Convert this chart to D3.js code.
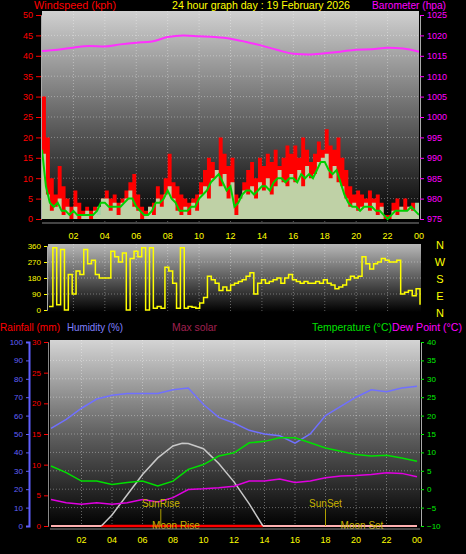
<!DOCTYPE html>
<html><head><meta charset="utf-8">
<script src="https://cdn.jsdelivr.net/npm/d3@7"></script>
<style>body{margin:0;background:#000}svg{display:block}text{font-family:"Liberation Sans",Arial,sans-serif}</style>
</head><body>
<svg id="c" width="466" height="554"></svg>
<script>
const hourTicks=["02","04","06","08","10","12","14","16","18","20","22","00"];
const gust=[30,20,10,6,13,8,5,3,7,4,2,3,2,3,1,5,7,5,6,4,5,7,9,11,6,3,2,3,4,8,6,10,16,9,8,6,5,4,5,6,9,12,15,14,12,20,16,13,15,6,5,9,12,14,10,15,13,16,14,17,13,15,18,16,18,15,20,17,14,16,19,17,22,18,17,20,15,12,8,6,7,6,5,7,5,6,4,1,1,4,5,3,5,3,4,2,3];
const avgWind=[17,8,4,3,4,2,2,1,2,1,1,1,1,1,2,4,4,3,3,3,3,4,5,5,3,2,1,1,2,4,4,5,7,5,4,2,2,2,3,3,5,6,7,9,10,11,9,7,8,3,4,6,7,7,6,7,8,8,7,9,10,10,9,10,10,9,11,10,11,10,12,14,14,12,11,12,9,6,4,3,3,2,3,3,3,2,2,1,0,1,2,2,2,2,3,2,1];
const speed=[16,6,2,3,5,1,3,0,3,0,1,2,0,2,3,5,5,2,4,1,4,5,7,3,2,0,1,3,1,5,3,6,8,5,2,1,3,1,4,2,6,8,5,10,12,8,11,5,9,1,5,7,6,8,5,9,7,10,6,8,12,9,8,11,9,12,8,13,10,11,14,15,16,10,13,9,8,5,3,4,2,3,4,2,4,1,3,0,0,2,1,3,2,3,2,4,0];
const baro=[1016.2,1016.5,1017,1017.4,1017.3,1017.8,1018.2,1018.5,1019.6,1020,1019.8,1019.6,1019.2,1018.4,1017.5,1016.4,1015.5,1015.3,1015.6,1016,1016.5,1016.6,1017,1016.8,1016];
const windDir=[20,350,30,340,0,200,90,220,200,340,260,280,200,180,180,180,330,300,270,320,0,290,330,300,350,0,350,10,20,10,240,220,150,10,350,10,20,15,10,40,70,190,170,150,110,130,110,140,150,160,170,190,210,90,150,170,150,160,170,180,150,180,200,170,160,150,160,150,150,160,150,170,150,140,120,130,140,170,190,180,190,300,260,230,260,270,290,280,270,270,280,90,100,110,80,120,30];
const humidity=[53,58,64,69,71,72,72,72,74,75,66,59,56,52,50,49,45,50,60,65,70,74,73,75,76];
const temperature=[6.3,4.5,2.2,2.2,1.3,1.8,2.2,0.9,2.2,5.4,6.7,9,9.9,12.6,13,14,14,12.6,11.2,10.3,9.4,9,9.2,8.5,7.6];
const dewPoint=[-2.8,-3.7,-4.1,-3.7,-4.1,-3.7,-2.8,-3.5,-2.3,-0.1,0.1,0.4,0.8,2.2,2.2,2.8,1.8,2.2,3.1,3.6,3.7,4,4.5,4.3,3.4];
const solarHours=[3.3,4,5,6,7,8,8.6,9,10,11,12,13,13.9];
const maxSolar=[0,60,170,280,370,435,450,448,420,340,240,120,0];
const rainfall=new Array(25).fill(0);
const dirLabels=["N","W","S","E","N"];

const svg=d3.select("#c");
const defs=svg.append("defs");
function grad(id,stops){const g=defs.append("linearGradient").attr("id",id).attr("x1",0).attr("y1",0).attr("x2",0).attr("y2",1);stops.forEach(s=>g.append("stop").attr("offset",s[0]).attr("stop-color",s[1]));}
grad("g1",[[0,"#d0d0d0"],[0.45,"#707070"],[1,"#000"]]);
grad("g2",[[0,"#b8b8b8"],[1,"#000"]]);
grad("g3",[[0,"#d4d4d4"],[0.5,"#606060"],[1,"#000"]]);
const t15=d3.range(97).map(i=>i/4), th=d3.range(25);
const label=(x,y,col,fs,w,t)=>svg.append("text").attr("x",x).attr("y",y).attr("fill",col).attr("font-size",fs).attr("textLength",w).attr("lengthAdjust","spacingAndGlyphs").text(t);

// ---------- top panel
const x1=d3.scaleLinear([0,24],[42,419]);
const yW=d3.scaleLinear([0,50],[219,15]);
const yB=d3.scaleLinear([975,1025],[219,15]);
svg.append("rect").attr("x",42).attr("y",11).attr("width",377).attr("height",211).attr("fill","url(#g1)");
const grid=(g,xs,ys,x0,x1_,y0,y1_)=>{xs.forEach(v=>g.append("line").attr("x1",v).attr("x2",v).attr("y1",y0).attr("y2",y1_));ys.forEach(v=>g.append("line").attr("y1",v).attr("y2",v).attr("x1",x0).attr("x2",x1_));g.attr("stroke","#fff").attr("stroke-opacity",0.35).attr("stroke-dasharray","1,2");};
grid(svg.append("g"),d3.range(2,24,2).map(x1),d3.range(5,50,5).map(yW),42,419,11,222);
const cl=defs.append("clipPath").attr("id","cp1");cl.append("rect").attr("x",42).attr("y",11).attr("width",377).attr("height",211);
const topG=svg.append("g").attr("clip-path","url(#cp1)");
const ar=(arr)=>d3.area().x((d,i)=>x1(t15[i])).y0(yW(0)).y1(d=>yW(d)).curve(d3.curveStepAfter)(arr);
topG.append("path").attr("d",ar(gust)).attr("fill","#ff0000");
topG.append("path").attr("d",ar(speed)).attr("fill","#b8e8b8").attr("opacity",0.9);
topG.append("path").attr("d",d3.line().x((d,i)=>x1(t15[i])).y(d=>yW(d))(avgWind)).attr("fill","none").attr("stroke","#00d000").attr("stroke-width",2);
topG.append("path").attr("d",d3.line().x((d,i)=>x1(th[i])).y(d=>yB(d)).curve(d3.curveMonotoneX)(baro)).attr("fill","none").attr("stroke","#ff30ff").attr("stroke-width",2);
svg.append("g").attr("transform","translate(41,0)").call(d3.axisLeft(yW).tickValues(d3.range(0,51,5)).tickSize(5)).call(g=>{g.select(".domain").attr("stroke","#aaa");g.selectAll("line").attr("stroke","#f00");g.selectAll("text").attr("fill","#f00").attr("font-size",9);});
svg.append("g").attr("transform","translate(420,0)").call(d3.axisRight(yB).tickValues(d3.range(975,1026,5)).tickFormat(d3.format("d")).tickSize(4)).call(g=>{g.select(".domain").attr("stroke","#aaa");g.selectAll("line").attr("stroke","#f0f");g.selectAll("text").attr("fill","#f0f").attr("font-size",9);});
svg.append("line").attr("x1",42).attr("x2",419).attr("y1",223).attr("y2",223).attr("stroke","#888");
svg.selectAll(".ht").data(hourTicks).join("text").attr("x",(d,i)=>x1(2*(i+1))).attr("y",239).attr("text-anchor","middle").attr("fill","#ff0").attr("font-size",9).text(d=>d);
label(34,9,"#f00",10,82,"Windspeed (kph)");
label(172,9,"#ff0",10,178,"24 hour graph day : 19 February 2026");
label(372,9,"#f0f",10,74,"Barometer (hpa)");

// ---------- wind direction
const x2=d3.scaleLinear([0,24],[49,420]);
const yD=d3.scaleLinear([0,360],[310,246]);
svg.append("rect").attr("x",48).attr("y",244).attr("width",373).attr("height",68).attr("fill","url(#g2)");
grid(svg.append("g"),d3.range(2,24,2).map(x1),[90,180,270].map(yD),48,421,244,312);
svg.append("path").attr("d",d3.line().x((d,i)=>x2(t15[i])).y(d=>yD(d)).curve(d3.curveStepAfter)(windDir)).attr("fill","none").attr("stroke","#ffff00").attr("stroke-width",1.5);
svg.append("g").attr("transform","translate(47,0)").call(d3.axisLeft(yD).tickValues([0,90,180,270,360]).tickSize(3)).call(g=>{g.select(".domain").attr("stroke","#aaa");g.selectAll("line").attr("stroke","#ff0");g.selectAll("text").attr("fill","#ff0").attr("font-size",8);});
svg.selectAll(".dl").data(dirLabels).join("text").attr("x",440).attr("y",(d,i)=>249+i*17).attr("text-anchor","middle").attr("fill","#ff0").attr("font-size",11).text(d=>d);

// ---------- bottom panel
const x3=d3.scaleLinear([0,24],[51,417]);
const yH=d3.scaleLinear([0,100],[526,342]);
const yR=d3.scaleLinear([0,30],[526,342]);
const yT=d3.scaleLinear([-10,40],[526,342]);
const yS=d3.scaleLinear([0,1000],[526,342]);
svg.append("rect").attr("x",50).attr("y",340).attr("width",370).attr("height",188).attr("fill","url(#g3)");
grid(svg.append("g"),d3.range(2,24,2).map(x3),d3.range(-5,40,5).map(yT),50,420,340,528);
label(0,331,"#f00",11,60,"Rainfall (mm)");
label(67,331,"#8080ff",11,56,"Humidity (%)");
label(172,331,"#a02050",11,45,"Max solar");
label(312,331,"#00e000",11,80,"Temperature (°C)");
label(392,331,"#f0f",11,70,"Dew Point (°C)");
const ln=(xs,ys,arr,col,w)=>svg.append("path").attr("d",d3.line().x((d,i)=>x3(xs[i])).y(d=>ys(d))(arr)).attr("fill","none").attr("stroke",col).attr("stroke-width",w);
ln(th,yR,rainfall,"#ffb0b0",2);
svg.append("line").attr("x1",x3(3.3)).attr("x2",x3(13.9)).attr("y1",yR(0)).attr("y2",yR(0)).attr("stroke","#f00").attr("stroke-width",2.5);
ln(solarHours,yS,maxSolar,"#c8c8c8",1.5);
ln(th,yH,humidity,"#7070ff",1.5);
ln(th,yT,temperature,"#00e000",1.5);
ln(th,yT,dewPoint,"#e000e0",1.5);
[[7.2,"SunRise",507],[18,"SunSet",507]].forEach(([h,t,y])=>{svg.append("line").attr("x1",x3(h)).attr("x2",x3(h)).attr("y1",y+2).attr("y2",526).attr("stroke","#b0a000");svg.append("text").attr("x",x3(h)).attr("y",y).attr("text-anchor","middle").attr("fill","#c8b400").attr("font-size",10).text(t);});
svg.append("text").attr("x",176).attr("y",529).attr("text-anchor","middle").attr("fill","#c8b400").attr("font-size",10).text("Moon Rise");
svg.append("text").attr("x",362).attr("y",529).attr("text-anchor","middle").attr("fill","#c8b400").attr("font-size",10).text("Moon Set");
svg.append("g").attr("transform","translate(29,0)").call(d3.axisLeft(yH).tickValues(d3.range(0,101,10)).tickSize(3)).call(g=>{g.select(".domain").attr("stroke","#6060ff").attr("stroke-width",2);g.selectAll("line").attr("stroke","#6060ff");g.selectAll("text").attr("fill","#6060ff").attr("font-size",8);});
svg.append("g").attr("transform","translate(48,0)").call(d3.axisLeft(yR).tickValues(d3.range(0,31,5)).tickSize(4)).call(g=>{g.select(".domain").attr("stroke","#888");g.selectAll("line").attr("stroke","#f00");g.selectAll("text").attr("fill","#f00").attr("font-size",8);});
svg.append("g").attr("transform","translate(421,0)").call(d3.axisRight(yT).tickValues(d3.range(-10,41,5)).tickSize(3)).call(g=>{g.select(".domain").attr("stroke","#aaa");g.selectAll("line").attr("stroke","#0e0");g.selectAll("text").attr("fill","#0e0").attr("font-size",8);});
svg.append("line").attr("x1",50).attr("x2",420).attr("y1",529).attr("y2",529).attr("stroke","#888");
svg.selectAll(".hb").data(hourTicks).join("text").attr("x",(d,i)=>x3(2*(i+1))).attr("y",543).attr("text-anchor","middle").attr("fill","#ff0").attr("font-size",9).text(d=>d);
</script></body></html>
